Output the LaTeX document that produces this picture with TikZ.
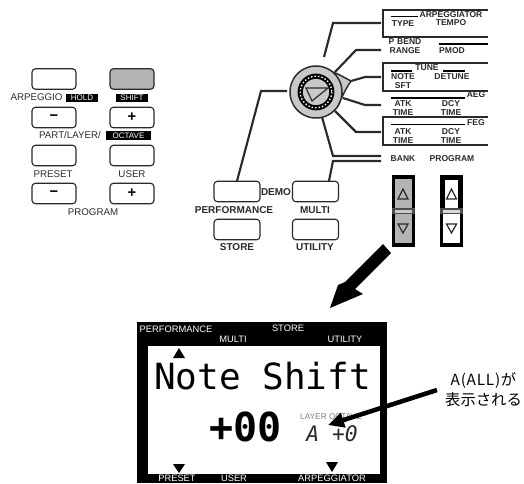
\documentclass[tikz,border=0pt]{standalone}
\usepackage{fontspec}
\setmainfont{Liberation Sans}
\newfontfamily\lcdfont{DejaVu Sans Mono}
\newfontfamily\jpfont{Noto Sans CJK JP}
\usetikzlibrary{arrows.meta}
\definecolor{ink}{HTML}{2A2A2A}
\definecolor{panelgray}{HTML}{B4B4B4}
\definecolor{dialgray}{HTML}{C8C8C8}
\newcommand{\fs}[1]{\fontsize{#1}{#1}\selectfont}
\tikzset{
  x=0.75pt,y=-0.75pt,
  keybtn/.style={draw=ink,line width=0.85pt,rounded corners=2.6pt,fill=white,minimum width=33pt,minimum height=15.4pt,inner sep=0pt,font=\bfseries\fs{11}},
  lbl/.style={inner sep=0pt,text=ink,font=\fs{7.3}},
  blk/.style={inner sep=0pt,fill=black,text=white,font=\fs{6},minimum height=6.4pt},
  bl/.style={inner sep=0pt,text=ink,font=\bfseries\fs{6.4}},
  bb/.style={inner sep=0pt,text=ink,font=\bfseries\fs{7.5}},
  wire/.style={draw=ink,line width=1.6pt,line join=miter},
  frame/.style={draw=ink,line width=1.1pt},
  lcdl/.style={inner sep=0pt,text=white,font=\fs{7}},
  stepper/.style={fill=black,minimum width=17.25pt,minimum height=54pt,inner sep=0pt},
  tri/.style={draw=ink,line width=0.9pt,fill=none,line join=miter},
}
\begin{document}
\begin{tikzpicture}
\useasboundingbox (0,0) rectangle (524,483);
% ---- left button group
\node[keybtn] (b1) at (54,79) {};
\node[keybtn,fill=panelgray] (b2) at (132,79) {};
\node[keybtn] (b3) at (54,117.5) {−};
\node[keybtn] (b4) at (132,117.5) {+};
\node[keybtn] (b5) at (54,155.5) {};
\node[keybtn] (b6) at (132,155.5) {};
\node[keybtn] (b7) at (54,193.5) {−};
\node[keybtn] (b8) at (132,193.5) {+};
\node[lbl] (l1) at (36.5,97) {ARPEGGIO};
\node[blk,minimum width=24pt] (l2) at (82,98) {HOLD};
\node[blk,minimum width=24pt] (l3) at (132,98) {SHIFT};
\node[lbl] (l4) at (70,135.5) {PART/LAYER/};
\node[blk,minimum width=34pt] (l5) at (128.5,135.5) {OCTAVE};
\node[lbl] (l6) at (53,174) {PRESET};
\node[lbl] (l7) at (132,174) {USER};
\node[lbl] (l8) at (93,212) {PROGRAM};
% ---- function panels
\draw[frame] (488,10) -- (383,10) -- (383,37) -- (488,37);
\draw[frame] (488,63) -- (383,63) -- (383,91) -- (488,91);
\draw[frame] (488,117) -- (383,117) -- (383,145) -- (488,145);
\draw[black,line width=1.2pt] (391,16.5) -- (418,16.5);
\draw[black,line width=1.2pt] (439,44) -- (488,44);
\draw[black,line width=1.2pt] (391,71) -- (412,71) (443,71) -- (465,71);
\draw[black,line width=1.2pt] (391,98) -- (465,98);
\draw[black,line width=1.2pt] (391,124.5) -- (465,124.5);
\node[bl] (t1) at (451,15) {ARPEGGIATOR};
\node[bl] (t2) at (403,24) {TYPE};
\node[bl] (t3) at (451,23) {TEMPO};
\node[bl] (t4) at (405,42) {P\,\,BEND};
\node[bl] (t5) at (405,51) {RANGE};
\node[bl] (t6) at (452,51) {PMOD};
\node[bl] (t7) at (427,68) {TUNE};
\node[bl] (t8) at (403,77) {NOTE};
\node[bl] (t9) at (403,86) {SFT};
\node[bl] (t10) at (452,77) {DETUNE};
\node[bl] (t11) at (476,95) {AEG};
\node[bl] (t12) at (403,104) {ATK};
\node[bl] (t13) at (403,113) {TIME};
\node[bl] (t14) at (451,104) {DCY};
\node[bl] (t15) at (451,113) {TIME};
\node[bl] (t16) at (476,123) {FEG};
\node[bl] (t17) at (403,132) {ATK};
\node[bl] (t18) at (403,141) {TIME};
\node[bl] (t19) at (451,132) {DCY};
\node[bl] (t20) at (451,141) {TIME};
\node[bl] (t21) at (403,159) {BANK};
\node[bl] (t22) at (452,159) {PROGRAM};
% ---- connectors to the dial
\coordinate (c1a) at (381,23); \coordinate (c1b) at (333,23); \coordinate (c1c) at (324,57);
\coordinate (c2a) at (381,50); \coordinate (c2b) at (356,50); \coordinate (c2c) at (335,72);
\coordinate (c3a) at (381,77); \coordinate (c3b) at (365,77); \coordinate (c3c) at (351,81);
\coordinate (c4a) at (381,105); \coordinate (c4b) at (365,105); \coordinate (c4c) at (343,98);
\coordinate (c5a) at (381,132); \coordinate (c5b) at (356,132); \coordinate (c5c) at (335,111);
\coordinate (c6a) at (381,156); \coordinate (c6b) at (333,156); \coordinate (c6c) at (322,117);
\coordinate (c7a) at (381,161); \coordinate (c7b) at (333,161); \coordinate (c7c) at (329,181);
\coordinate (c8a) at (287,91); \coordinate (c8b) at (261,91); \coordinate (c8c) at (237,181);
\draw[wire] (c1a) -- (c1b) -- (c1c);
\draw[wire] (c2a) -- (c2b) -- (c2c);
\draw[wire] (c3a) -- (c3b) -- (c3c);
\draw[wire] (c4a) -- (c4b) -- (c4c);
\draw[wire] (c5a) -- (c5b) -- (c5c);
\draw[wire] (c6a) -- (c6b) -- (c6c);
\draw[wire] (c7a) -- (c7b) -- (c7c);
\draw[wire] (c8a) -- (c8b) -- (c8c);
% ---- dial
\draw[ink,line width=1.1pt,fill=dialgray,line join=round]
  plot[domain=-30:411,samples=90] ({316+26*cos(\x)},{92-26*sin(\x)})
  .. controls (339,74) and (345,78) .. (351,81)
  .. controls (347,87) and (344,92) .. (338.5,105) -- cycle;
\coordinate (dial) at (316,92);
\draw[black,line width=3.9pt] (dial) circle[radius=15.8];
\draw[white,line width=1pt,dash pattern=on 1.1pt off 1.5pt] (dial) circle[radius=15.8];
\fill[dialgray] (dial) circle[radius=12.7];
\draw[ink,line width=0.9pt,line join=miter] (306,88) -- (328,88) -- (312,101) -- cycle;
% ---- lower buttons
\node[keybtn,minimum width=34.5pt] (perf) at (237,191.5) {};
\node[keybtn,minimum width=34.5pt] (multi) at (315.5,191.5) {};
\node[keybtn,minimum width=34.5pt] (store) at (237,229.5) {};
\node[keybtn,minimum width=34.5pt] (util) at (315.5,229.5) {};
\node[bb] (d1) at (276,192) {DEMO};
\node[bb] (d2) at (234,210) {PERFORMANCE};
\node[bb] (d3) at (315,210) {MULTI};
\node[bb] (d4) at (237,247) {STORE};
\node[bb] (d5) at (315,247) {UTILITY};
% ---- steppers
\node[stepper] (s1) at (403.5,211) {};
\node[stepper] (s2) at (451.5,211) {};
\fill[panelgray] (395,179) rectangle (412,243);
\fill[black!70] (392,208) rectangle (415,214);
\fill[panelgray!70!white] (395,209.5) rectangle (412,212.5);
\fill[white] (445,180) rectangle (458,208);
\fill[black!70] (440,208) rectangle (463,214);
\fill[panelgray!50!white] (443,209.5) rectangle (460,212.5);
\fill[white] (443,214) rectangle (460,243);
\draw[tri] (403,189) -- (398,199) -- (408,199) -- cycle;
\draw[tri] (398,224) -- (408,224) -- (403,233) -- cycle;
\draw[tri] (451.5,189) -- (446.5,199) -- (456.5,199) -- cycle;
\draw[tri] (446.5,224) -- (456.5,224) -- (451.5,233) -- cycle;
% ---- big arrow
\fill[black] (383,244) -- (391,253) -- (355,289) -- (363,294) -- (330,308) -- (338,285) -- (345,282) -- cycle;
% ---- LCD
\fill[black] (137,322) rectangle (387,483);
\fill[white] (148,346) rectangle (380,474);
\node[lcdl] (p1) at (176,329) {PERFORMANCE};
\node[lcdl] (p2) at (233,339) {MULTI};
\node[lcdl] (p3) at (288,328) {STORE};
\node[lcdl] (p4) at (345,339) {UTILITY};
\node[lcdl] (p5) at (177,478.6) {PRESET};
\node[lcdl] (p6) at (234,478.6) {USER};
\node[lcdl] (p7) at (332,478.6) {ARPEGGIATOR};
\fill[black] (179,348) -- (173,358) -- (185,358) -- cycle;
\fill[black] (173,464) -- (185,464) -- (179,473) -- cycle;
\fill[black] (326,462) -- (338,462) -- (332,472) -- cycle;
\node[inner sep=0pt,anchor=base west,text=black,font=\lcdfont\fs{27}] (lcd1) at (154,389) {Note Shift};
\node[inner sep=0pt,anchor=base west,text=black,font=\lcdfont\bfseries\fs{30}] (lcd2) at (209,441) {+00};
\node[inner sep=0pt,text=gray,font=\fs{6.2}] (lcd3) at (331,417) {LAYER OCTAVE};
\node[inner sep=0pt,text=ink,font=\lcdfont\itshape\fs{16}] (lcd4) at (332,434) {A +0};
% ---- callout
\node[inner sep=0pt,font=\jpfont\fs{11.5}] (ca) at (483.5,381) {\addfontfeature{LetterSpace=5}A(ALL)が};
\node[inner sep=0pt,font=\jpfont\fs{11.5}] (cb) at (483.5,400) {表示される};
\coordinate (ct) at (437,390);
\coordinate (ch) at (328,425);
\draw[black,line width=3.4pt,-{Triangle[length=12pt,width=11pt]}] (ct) -- (ch);
\end{tikzpicture}
\end{document}
